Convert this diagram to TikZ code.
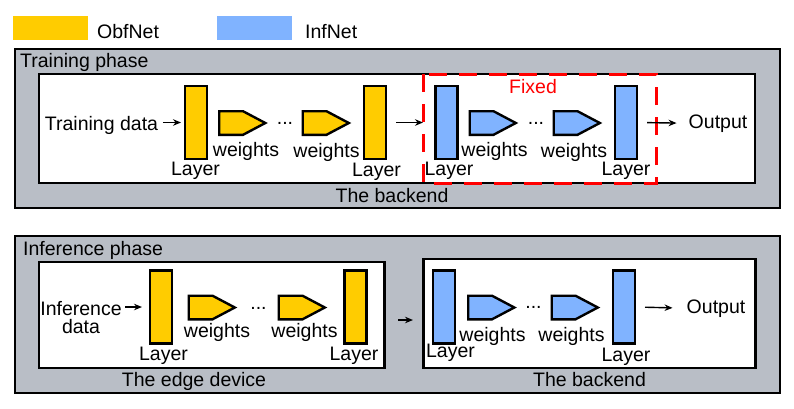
\documentclass[tikz,border=0pt]{standalone}
\usepackage{fontspec}
\setmainfont{Liberation Sans}
\usetikzlibrary{arrows.meta}
\definecolor{obfyellow}{RGB}{255,204,0}
\definecolor{infblue}{RGB}{128,179,255}
\definecolor{phasegray}{RGB}{185,190,198}
\begin{document}
\begin{tikzpicture}[x=1pt,y=-1pt,font=\fontsize{19.5}{18}\selectfont,
  txt/.style={inner sep=0pt,anchor=base},
  layer/.style={draw,line width=2.4pt,minimum width=22pt,minimum height=73pt,inner sep=0pt},
  wts/.style={draw,line width=2.4pt},
  phasebox/.style={draw,fill=phasegray,line width=2.4pt},
  devbox/.style={draw,fill=white,line width=2.4pt},
  fixedline/.style={draw=red,line width=3pt,dash pattern=on 18pt off 12pt},
  flow/.style={-{Stealth[length=8pt,width=6.5pt]},line width=1.4pt}]
\useasboundingbox (0,0) rectangle (794,408);

\node[fill=obfyellow,minimum width=75pt,minimum height=24pt] (obfkey) at (50.5,28) {};
\node[txt,anchor=base west] (obfname) at (97,38) {ObfNet};
\node[fill=infblue,minimum width=75pt,minimum height=24pt] (infkey) at (254.5,28) {};
\node[txt,anchor=base west] (infname) at (305,38) {InfNet};

\draw[phasebox] (15,49) rectangle (780,208);
\draw[devbox] (39,74) rectangle (755,183);
\draw[fixedline] (423,74) rectangle (656,183);
\node[txt,anchor=base west] (trainphase) at (20,67.5) {Training phase};
\node[txt,red] (fixed) at (533,93) {Fixed};
\node[txt] (backendA) at (392,202) {The backend};

\node[txt] (tdata) at (101.5,130) {Training data};
\node[layer,fill=obfyellow] (obfA) at (196,122.5) {};
\coordinate (wA) at (243,123);
\node[txt] (dotsA) at (285,124) {...};
\coordinate (wB) at (326.5,123);
\node[layer,fill=obfyellow] (obfB) at (375,122.5) {};
\node[layer,fill=infblue] (infA) at (446.5,122.5) {};
\coordinate (wC) at (493.5,123);
\node[txt] (dotsB) at (536,124) {...};
\coordinate (wD) at (577.5,123);
\node[layer,fill=infblue] (infB) at (626,122.5) {};
\node[txt] (outA) at (718,128) {Output};

\node[txt] (layA) at (195.5,175) {Layer};
\node[txt] (layB) at (376.5,176.5) {Layer};
\node[txt] (layC) at (449,175) {Layer};
\node[txt] (layD) at (626,175) {Layer};
\node[txt] (wtA) at (246,156) {weights};
\node[txt] (wtB) at (326.5,157) {weights};
\node[txt] (wtC) at (494.5,156) {weights};
\node[txt] (wtD) at (574,157) {weights};

\draw[phasebox] (15,236) rectangle (780,393);
\draw[devbox] (39,262) rectangle (384.5,368);
\draw[devbox] (423.5,259) rectangle (755.5,368);
\node[txt,anchor=base west] (infphase) at (23,255) {Inference phase};
\node[txt] (edgename) at (194,386.5) {The edge device};
\node[txt] (backendB) at (589.5,386.5) {The backend};

\node[inner sep=0pt,align=center] (infdata) at (81,318) {Inference\\data};
\node[layer,fill=obfyellow] (obfC) at (161,307) {};
\coordinate (wE) at (212.5,307.5);
\node[txt] (dotsC) at (258.5,309) {...};
\coordinate (wF) at (302.5,307.5);
\node[layer,fill=obfyellow] (obfD) at (355.5,307) {};
\node[layer,fill=infblue] (infC) at (444,307) {};
\coordinate (wG) at (492,307.5);
\node[txt] (dotsD) at (533.5,308) {...};
\coordinate (wH) at (575.5,307.5);
\node[layer,fill=infblue] (infD) at (624,307) {};
\node[txt] (outB) at (716,313) {Output};

\node[txt] (layE) at (163.5,360.5) {Layer};
\node[txt] (layF) at (354,360) {Layer};
\node[txt] (layG) at (450.5,357.5) {Layer};
\node[txt] (layH) at (626,361.5) {Layer};
\node[txt] (wtE) at (217,337) {weights};
\node[txt] (wtF) at (304.5,337) {weights};
\node[txt] (wtG) at (492.5,341.5) {weights};
\node[txt] (wtH) at (571.5,341.5) {weights};

\foreach \w/\c in {wA/obfyellow, wB/obfyellow, wC/infblue, wD/infblue, wE/obfyellow, wF/obfyellow, wG/infblue, wH/infblue}
	\draw[wts,fill=\c] (\w) ++(-23.8,-11.8) -- ++(23.8,0) -- ++(22.3,11.8) -- ++(-22.3,11.8) -- ++(-23.8,0) -- cycle;

\coordinate (sendA) at (398,320);
\coordinate (sendB) at (413,320);

\foreach \from/\to/\a/\b in {tdata.east |- obfA.west/obfA.west/4.6pt/2.8pt, obfB.east/infA.west/8.8pt/11.3pt, infB.east/outA.west/8.8pt/12pt, infdata.east |- obfC.west/obfC.west/3.5pt/6.8pt, sendA/sendB/0pt/0pt, infD.east/outB.west/8.8pt/14pt}
	\draw[flow,shorten <=\a,shorten >=\b] (\from) -- (\to);

\end{tikzpicture}
\end{document}
